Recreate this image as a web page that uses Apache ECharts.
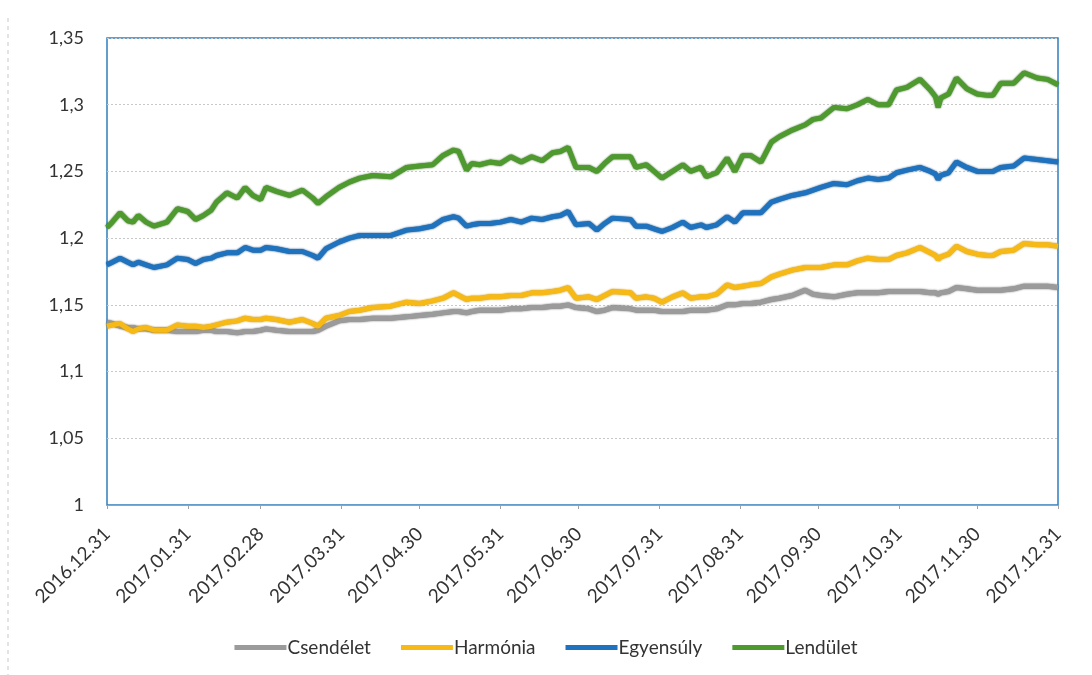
<!DOCTYPE html>
<html>
<head>
<meta charset="utf-8">
<script src="https://cdn.jsdelivr.net/npm/echarts@6/dist/echarts.min.js"></script>
<style>html,body{margin:0;padding:0;background:#fff;}#c{width:1092px;height:675px;}</style>
</head>
<body>
<div id="c"></div>
<script>
// Month-end tick labels shown on the x axis
const tickLabels = ['2016.12.31','2017.01.31','2017.02.28','2017.03.31','2017.04.30','2017.05.31','2017.06.30','2017.07.31','2017.08.31','2017.09.30','2017.10.31','2017.11.30','2017.12.31'];
const yTicks = [1, 1.05, 1.1, 1.15, 1.2, 1.25, 1.3, 1.35];
const seriesNames = ['Csendélet', 'Harmónia', 'Egyensúly', 'Lendület'];

// Sample dates
const sampleDates = ['2016.12.31','2017.01.02','2017.01.05','2017.01.08','2017.01.10','2017.01.12','2017.01.15','2017.01.18','2017.01.23','2017.01.27',
'2017.01.31','2017.02.03','2017.02.06','2017.02.09','2017.02.11','2017.02.15','2017.02.19','2017.02.22','2017.02.25','2017.02.28',
'2017.03.02','2017.03.06','2017.03.11','2017.03.16','2017.03.20','2017.03.22','2017.03.25','2017.03.30','2017.04.03','2017.04.07',
'2017.04.12','2017.04.19','2017.04.25','2017.04.30','2017.05.05','2017.05.09','2017.05.13','2017.05.15','2017.05.18','2017.05.20',
'2017.05.23','2017.05.27','2017.05.31','2017.06.04','2017.06.08','2017.06.12','2017.06.16','2017.06.20','2017.06.23','2017.06.26',
'2017.06.29','2017.07.04','2017.07.07','2017.07.10','2017.07.13','2017.07.20','2017.07.22','2017.07.26','2017.07.29','2017.08.01',
'2017.08.05','2017.08.09','2017.08.12','2017.08.16','2017.08.18','2017.08.22','2017.08.26','2017.08.29','2017.09.01','2017.09.04',
'2017.09.08','2017.09.12','2017.09.15','2017.09.20','2017.09.25','2017.09.28','2017.10.01','2017.10.06','2017.10.11','2017.10.15',
'2017.10.19','2017.10.23','2017.10.27','2017.10.30','2017.11.03','2017.11.08','2017.11.12','2017.11.14','2017.11.15','2017.11.16',
'2017.11.19','2017.11.22','2017.11.26','2017.11.30','2017.12.04','2017.12.06','2017.12.09','2017.12.14','2017.12.18','2017.12.23',
'2017.12.27','2017.12.31'];

const csendelet = [1.137,1.136,1.134,1.133,1.133,1.132,1.132,1.131,1.131,1.130,
1.130,1.130,1.131,1.131,1.130,1.130,1.129,1.130,1.130,1.131,
1.132,1.131,1.130,1.130,1.130,1.131,1.134,1.138,1.139,1.139,
1.140,1.140,1.141,1.142,1.143,1.144,1.145,1.145,1.144,1.145,
1.146,1.146,1.146,1.147,1.147,1.148,1.148,1.149,1.149,1.150,
1.148,1.147,1.145,1.146,1.148,1.147,1.146,1.146,1.146,1.145,
1.145,1.145,1.146,1.146,1.146,1.147,1.150,1.150,1.151,1.151,
1.152,1.154,1.155,1.157,1.161,1.158,1.157,1.156,1.158,1.159,
1.159,1.159,1.160,1.160,1.160,1.160,1.159,1.159,1.158,1.159,
1.160,1.163,1.162,1.161,1.161,1.161,1.161,1.162,1.164,1.164,
1.164,1.163];

const harmonia = [1.134,1.135,1.136,1.132,1.130,1.132,1.133,1.131,1.131,1.135,
1.134,1.134,1.133,1.134,1.135,1.137,1.138,1.140,1.139,1.139,
1.140,1.139,1.137,1.139,1.136,1.134,1.140,1.142,1.145,1.146,
1.148,1.149,1.152,1.151,1.153,1.155,1.159,1.157,1.154,1.155,
1.155,1.156,1.156,1.157,1.157,1.159,1.159,1.160,1.161,1.163,
1.155,1.156,1.154,1.157,1.160,1.159,1.155,1.156,1.155,1.152,
1.156,1.159,1.155,1.156,1.156,1.158,1.165,1.163,1.164,1.165,
1.166,1.171,1.173,1.176,1.178,1.178,1.178,1.180,1.180,1.183,
1.185,1.184,1.184,1.187,1.189,1.193,1.189,1.187,1.184,1.186,
1.188,1.194,1.190,1.188,1.187,1.187,1.190,1.191,1.196,1.195,
1.195,1.194];

const egyensuly = [1.180,1.182,1.185,1.182,1.180,1.182,1.180,1.178,1.180,1.185,
1.184,1.181,1.184,1.185,1.187,1.189,1.189,1.193,1.191,1.191,
1.193,1.192,1.190,1.190,1.187,1.185,1.192,1.197,1.200,1.202,
1.202,1.202,1.206,1.207,1.209,1.214,1.216,1.215,1.209,1.210,
1.211,1.211,1.212,1.214,1.212,1.215,1.214,1.216,1.217,1.220,
1.210,1.211,1.206,1.211,1.215,1.214,1.209,1.209,1.207,1.205,
1.208,1.212,1.208,1.210,1.208,1.210,1.216,1.212,1.219,1.219,
1.219,1.227,1.229,1.232,1.234,1.236,1.238,1.241,1.240,1.243,
1.245,1.244,1.245,1.249,1.251,1.253,1.250,1.248,1.244,1.247,
1.249,1.257,1.253,1.250,1.250,1.250,1.253,1.254,1.260,1.259,
1.258,1.257];

const lendulet = [1.208,1.212,1.219,1.213,1.212,1.217,1.212,1.209,1.212,1.222,
1.220,1.214,1.217,1.221,1.227,1.234,1.230,1.238,1.232,1.229,
1.238,1.235,1.232,1.236,1.230,1.226,1.231,1.238,1.242,1.245,
1.247,1.246,1.253,1.254,1.255,1.262,1.266,1.265,1.251,1.256,
1.255,1.257,1.256,1.261,1.257,1.261,1.258,1.264,1.265,1.268,
1.253,1.253,1.250,1.256,1.261,1.261,1.253,1.255,1.250,1.245,
1.250,1.255,1.250,1.253,1.246,1.249,1.260,1.250,1.262,1.262,
1.257,1.272,1.276,1.281,1.285,1.289,1.290,1.298,1.297,1.300,
1.304,1.300,1.300,1.311,1.313,1.319,1.311,1.306,1.298,1.305,
1.308,1.320,1.312,1.308,1.307,1.307,1.316,1.316,1.324,1.320,
1.319,1.315];

const colors = ['#9b9b9b', '#f6b915', '#1f72bd', '#4e9a2e'];
const edgeColors = ['#5e5e5e', '#c08a00', '#0b4479', '#2a5f16'];

// Daily category axis from first to last tick label
function pad(n){ return n < 10 ? '0' + n : '' + n; }
const categories = [];
(function(){
  const start = Date.UTC(2016, 11, 31), end = Date.UTC(2017, 11, 31);
  for (let t = start; t <= end; t += 86400000) {
    const d = new Date(t);
    categories.push(d.getUTCFullYear() + '.' + pad(d.getUTCMonth() + 1) + '.' + pad(d.getUTCDate()));
  }
})();
const tickSet = new Set(tickLabels);
const allValues = [csendelet, harmonia, egyensuly, lendulet];

const chart = echarts.init(document.getElementById('c'), null, {renderer: 'canvas'});
const FONT = 'Lato';
chart.setOption({
  backgroundColor: '#ffffff',
  animation: false,
  grid: {left: 107, right: 34, top: 38, bottom: 170, show: true, borderColor: '#2f7fbd', borderWidth: 1.5, backgroundColor: 'transparent'},
  legend: {
    bottom: 13, left: 'center',
    data: seriesNames,
    icon: 'rect', itemWidth: 52, itemHeight: 5, itemGap: 30,
    textStyle: {fontFamily: FONT, fontSize: 19, color: '#333', padding: [0, 0, 0, -4]}
  },
  xAxis: {
    type: 'category',
    data: categories,
    boundaryGap: false,
    axisLine: {lineStyle: {color: '#a0a0a0', width: 1}},
    axisTick: {show: true, interval: (i, v) => tickSet.has(v), length: 4, lineStyle: {color: '#a0a0a0'}},
    axisLabel: {interval: (i, v) => tickSet.has(v), rotate: 45, margin: 26, fontFamily: FONT, fontSize: 19, color: '#333'},
    splitLine: {show: false}
  },
  yAxis: {
    type: 'value',
    min: yTicks[0], max: yTicks[yTicks.length - 1], interval: 0.05,
    axisLine: {show: false},
    axisTick: {show: false},
    axisLabel: {margin: 23, fontFamily: FONT, fontSize: 18, color: '#333',
      formatter: v => String(+v.toFixed(2)).replace('.', ',')},
    splitLine: {lineStyle: {color: '#c9c9c9', width: 1, type: [2, 2]}}
  },
  graphic: [{type: 'line', shape: {x1: 8, y1: 18, x2: 8, y2: 675}, style: {stroke: '#c8c8c8', lineWidth: 1, lineDash: [4, 4]}}],
  series: seriesNames.map((name, k) => ({
    name: name,
    type: 'line',
    showSymbol: false,
    smooth: false,
    color: colors[k],
    lineStyle: {width: 5, color: colors[k], shadowColor: edgeColors[k], shadowBlur: 2},
    z: 2 + k,
    data: sampleDates.map((d, i) => [categories.indexOf(d), allValues[k][i]])
  }))
});
</script>
</body>
</html>
